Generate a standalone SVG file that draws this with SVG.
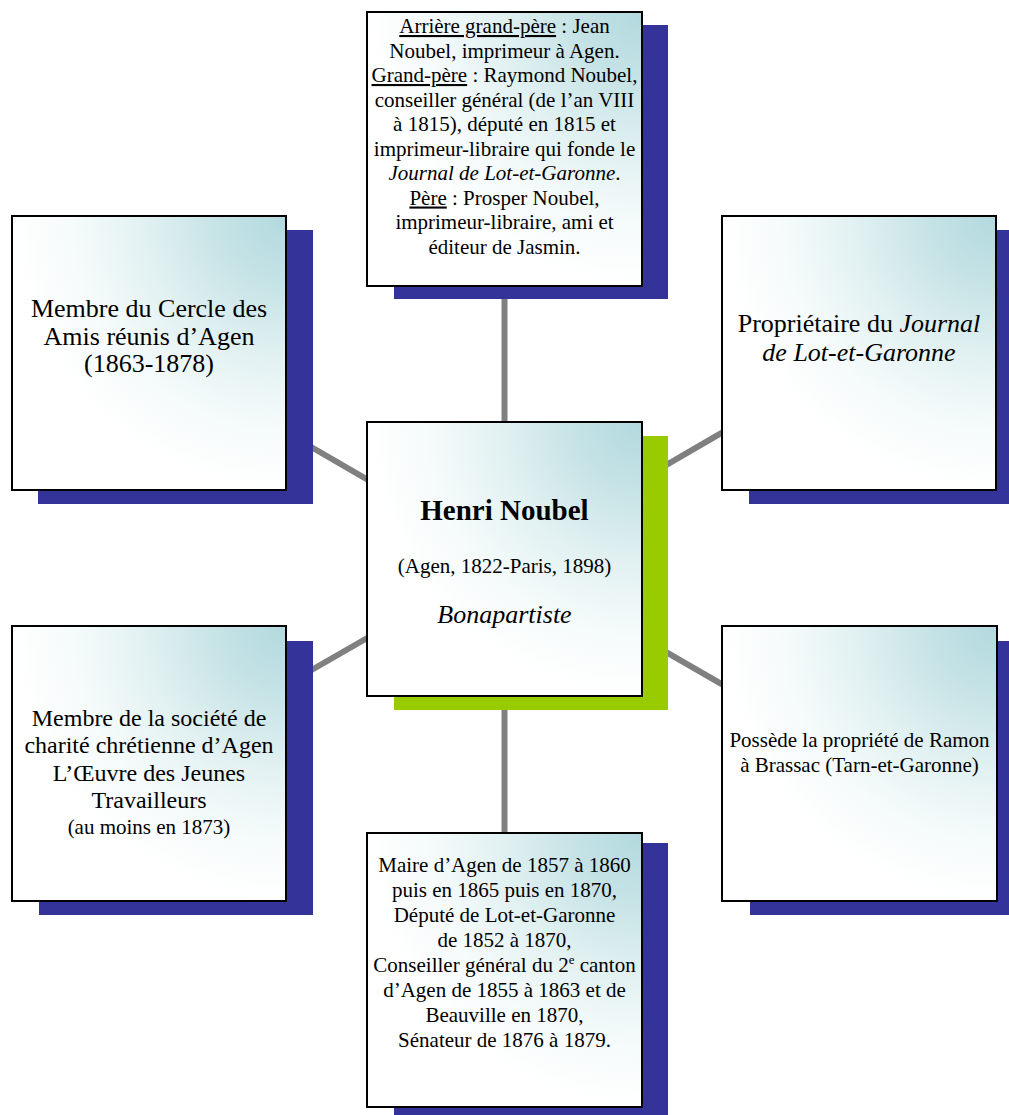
<svg xmlns="http://www.w3.org/2000/svg" width="1009" height="1115" viewBox="0 0 1009 1115">
<defs>
<radialGradient id="g" cx="1" cy="0" r="1" fx="1" fy="0">
<stop offset="0" stop-color="#b2d9de"/>
<stop offset="0.25" stop-color="#c6e3e6"/>
<stop offset="0.5" stop-color="#e0f0f1"/>
<stop offset="0.75" stop-color="#f4fafa"/>
<stop offset="1" stop-color="#ffffff"/>
</radialGradient>
</defs>
<style>
.sh{fill:#333399}
.shg{fill:#99cc00}
.bx{fill:url(#g);stroke:#000;stroke-width:2}
.c{stroke:#808080;stroke-width:6;fill:none}
text{font-family:"Liberation Serif","Times New Roman",serif;fill:#000;text-anchor:middle}
.f21{font-size:21px}
.f26{font-size:26px}
.u{text-decoration:underline}
.i{font-style:italic}
</style>
<g id="connectors">
<line class="c" x1="504.5" y1="559" x2="504.5" y2="149"/>
<line class="c" x1="504.5" y1="559" x2="504.5" y2="970"/>
<line class="c" x1="504.5" y1="559" x2="149" y2="353"/>
<line class="c" x1="504.5" y1="559" x2="859" y2="353"/>
<line class="c" x1="504.5" y1="559" x2="149" y2="763.5"/>
<line class="c" x1="504.5" y1="559" x2="859.5" y2="763.5"/>
</g>
<g id="node-ancestors">
<rect class="sh" x="394" y="25" width="274" height="274"/>
<rect class="bx" x="367" y="12" width="275" height="274"/>
<text class="f21" x="504.5" y="33"><tspan class="u">Arrière grand-père</tspan> : Jean</text>
<text class="f21" x="504.5" y="57.5">Noubel, imprimeur à Agen.</text>
<text class="f21" x="504.5" y="82"><tspan class="u">Grand-père</tspan> : Raymond Noubel,</text>
<text class="f21" x="504.5" y="106.5">conseiller général (de l’an VIII</text>
<text class="f21" x="504.5" y="131">à 1815), député en 1815 et</text>
<text class="f21" x="504.5" y="155.5">imprimeur-libraire qui fonde le</text>
<text class="f21" x="504.5" y="180"><tspan class="i">Journal de Lot-et-Garonne</tspan>.</text>
<text class="f21" x="504.5" y="204.5"><tspan class="u">Père</tspan> : Prosper Noubel,</text>
<text class="f21" x="504.5" y="229">imprimeur-libraire, ami et</text>
<text class="f21" x="504.5" y="253.5">éditeur de Jasmin.</text>
</g>
<g id="node-cercle">
<rect class="sh" x="38" y="230" width="275" height="274"/>
<rect class="bx" x="12" y="216" width="274" height="274"/>
<text class="f26" x="149" y="317">Membre du Cercle des</text>
<text class="f26" x="149" y="345">Amis réunis d’Agen</text>
<text class="f26" x="149" y="372">(1863-1878)</text>
</g>
<g id="node-journal">
<rect class="sh" x="749" y="230" width="275" height="274"/>
<rect class="bx" x="722" y="216" width="274" height="274"/>
<text class="f26" x="859" y="332">Propriétaire du <tspan class="i">Journal</tspan></text>
<text class="f26 i" x="859" y="361">de Lot-et-Garonne</text>
</g>
<g id="node-henri">
<rect class="shg" x="394" y="436" width="274" height="274"/>
<rect class="bx" x="367" y="422" width="275" height="274"/>
<text x="504.5" y="520" style="font-size:29px;font-weight:bold">Henri Noubel</text>
<text class="f21" x="504.5" y="573">(Agen, 1822-Paris, 1898)</text>
<text class="f26 i" x="504.5" y="623">Bonapartiste</text>
</g>
<g id="node-charite">
<rect class="sh" x="39" y="641" width="274" height="274"/>
<rect class="bx" x="12" y="626" width="274" height="275"/>
<text x="149" y="726" style="font-size:24px">Membre de la société de</text>
<text x="149" y="753" style="font-size:24px">charité chrétienne d’Agen</text>
<text x="149" y="781" style="font-size:24px">L’Œuvre des Jeunes</text>
<text x="149" y="808" style="font-size:24px">Travailleurs</text>
<text class="f21" x="149" y="834">(au moins en 1873)</text>
</g>
<g id="node-ramon">
<rect class="sh" x="750" y="641" width="275" height="274"/>
<rect class="bx" x="722" y="626" width="275" height="275"/>
<text class="f21" x="859.5" y="747">Possède la propriété de Ramon</text>
<text class="f21" x="859.5" y="772">à Brassac (Tarn-et-Garonne)</text>
</g>
<g id="node-mandats">
<rect class="sh" x="394" y="843" width="274" height="274"/>
<rect class="bx" x="367" y="833" width="275" height="274"/>
<text class="f21" x="504.5" y="872">Maire d’Agen de 1857 à 1860</text>
<text class="f21" x="504.5" y="897">puis en 1865 puis en 1870,</text>
<text class="f21" x="504.5" y="922">Député de Lot-et-Garonne</text>
<text class="f21" x="504.5" y="947">de 1852 à 1870,</text>
<text class="f21" x="504.5" y="972">Conseiller général du 2<tspan style="font-size:13px" dy="-8">e</tspan><tspan dy="8"> canton</tspan></text>
<text class="f21" x="504.5" y="997">d’Agen de 1855 à 1863 et de</text>
<text class="f21" x="504.5" y="1022">Beauville en 1870,</text>
<text class="f21" x="504.5" y="1047">Sénateur de 1876 à 1879.</text>
</g>
</svg>
